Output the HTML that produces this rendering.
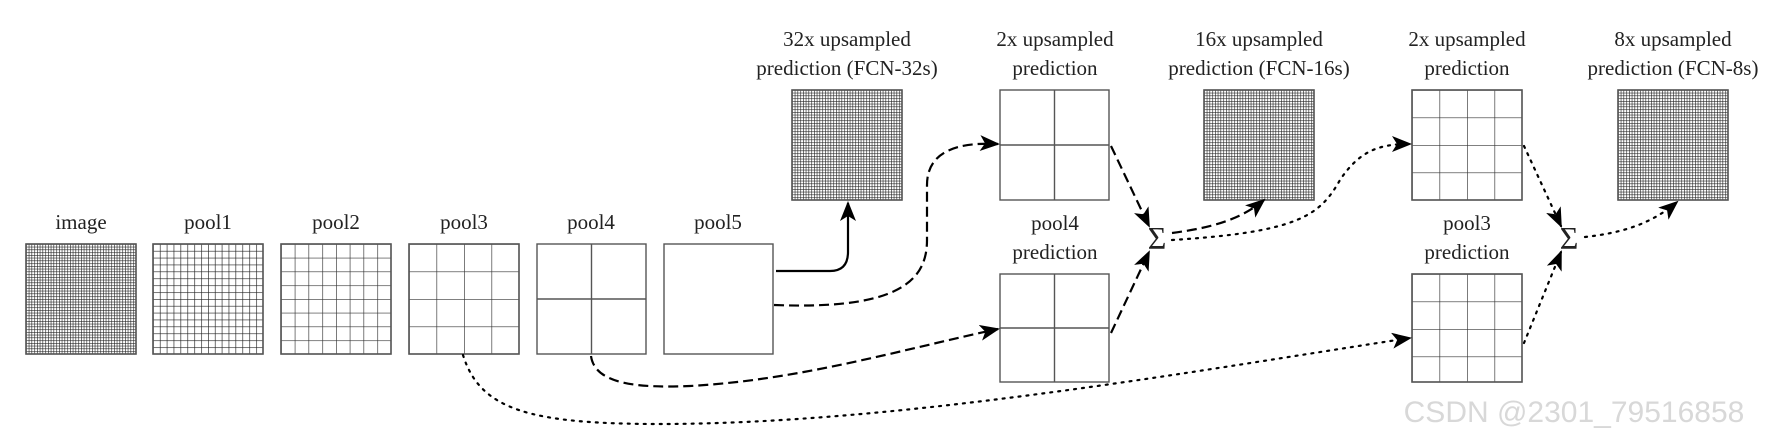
<!DOCTYPE html>
<html><head><meta charset="utf-8"><style>
html,body{margin:0;padding:0;background:#fff;}
svg{display:block;}
text{font-family:"Liberation Serif",serif;font-size:21px;fill:#222;text-anchor:middle;}
</style></head><body>
<svg width="1792" height="442" viewBox="0 0 1792 442" xmlns="http://www.w3.org/2000/svg">
<defs>
<pattern id="g40" width="2.75" height="2.75" patternUnits="userSpaceOnUse"><path d="M0 0H2.75M0 0V2.75" stroke="#222" stroke-width="1.2" fill="none"/></pattern>
<pattern id="g16" width="6.875" height="6.875" patternUnits="userSpaceOnUse"><path d="M0 0H6.875M0 0V6.875" stroke="#222" stroke-width="1.3" fill="none"/></pattern>
<pattern id="g8" width="13.75" height="13.75" patternUnits="userSpaceOnUse"><path d="M0 0H13.75M0 0V13.75" stroke="#333" stroke-width="1.3" fill="none"/></pattern>
<pattern id="g4" width="27.5" height="27.5" patternUnits="userSpaceOnUse"><path d="M0 0H27.5M0 0V27.5" stroke="#333" stroke-width="1.3" fill="none"/></pattern>
<marker id="ar" viewBox="0 0 20 16" refX="18" refY="8" markerWidth="20" markerHeight="16" markerUnits="userSpaceOnUse" orient="auto">
<path d="M0 0 L20 8 L0 16 L5 8 Z" fill="#000"/></marker>
</defs>
<g fill="none" stroke="#555" stroke-width="1.4">
<g transform="translate(26,244)"><rect width="110" height="110" fill="url(#g40)"/><rect width="110" height="110"/></g>
<g transform="translate(153,244)"><rect width="110" height="110" fill="url(#g16)"/><rect width="110" height="110"/></g>
<g transform="translate(281,244)"><rect width="110" height="110" fill="url(#g8)"/><rect width="110" height="110"/></g>
<g transform="translate(409,244)"><rect width="110" height="110" fill="url(#g4)"/><rect width="110" height="110"/></g>
<g transform="translate(537,244)"><rect width="109" height="110"/><path d="M54.5 0V110M0 55H109"/></g>
<rect x="664" y="244" width="109" height="110"/>
<g transform="translate(792,90)"><rect width="110" height="110" fill="url(#g40)"/><rect width="110" height="110"/></g>
<g transform="translate(1000,90)"><rect width="109" height="110"/><path d="M54.5 0V110M0 55H109"/></g>
<g transform="translate(1204,90)"><rect width="110" height="110" fill="url(#g40)"/><rect width="110" height="110"/></g>
<g transform="translate(1412,90)"><rect width="110" height="110" fill="url(#g4)"/><rect width="110" height="110"/></g>
<g transform="translate(1618,90)"><rect width="110" height="110" fill="url(#g40)"/><rect width="110" height="110"/></g>
<g transform="translate(1000,274)"><rect width="109" height="108"/><path d="M54.5 0V108M0 54H109"/></g>
<g transform="translate(1412,274)"><rect width="110" height="108" fill="url(#g4)"/><rect width="110" height="108"/></g>
</g>
<text x="81" y="229">image</text>
<text x="208" y="229">pool1</text>
<text x="336" y="229">pool2</text>
<text x="464" y="229">pool3</text>
<text x="591" y="229">pool4</text>
<text x="718" y="229">pool5</text>
<text x="847" y="46">32x upsampled</text><text x="847" y="75">prediction (FCN-32s)</text>
<text x="1055" y="46">2x upsampled</text><text x="1055" y="75">prediction</text>
<text x="1259" y="46">16x upsampled</text><text x="1259" y="75">prediction (FCN-16s)</text>
<text x="1467" y="46">2x upsampled</text><text x="1467" y="75">prediction</text>
<text x="1673" y="46">8x upsampled</text><text x="1673" y="75">prediction (FCN-8s)</text>
<text x="1055" y="230">pool4</text><text x="1055" y="259">prediction</text>
<text x="1467" y="230">pool3</text><text x="1467" y="259">prediction</text>
<text x="1157" y="249" style="font-size:32px">Σ</text>
<text x="1569" y="249" style="font-size:32px">Σ</text>
<g fill="none" stroke="#000" stroke-width="2.2" marker-end="url(#ar)">
<path d="M776 271 L830 271 Q848 271 848 252 L848 203"/>
<path d="M774 305 C900 310 927 280 927 240 L927 185 C927 150 960 142 998 144" stroke-dasharray="10 5"/>
<path d="M591 356 C595 385 640 388 690 386 C800 380 900 350 998 329" stroke-dasharray="10 5"/>
<path d="M463 355 C480 410 530 424 660 424 C900 424 1200 370 1410 338" stroke-dasharray="2 6" stroke-linecap="round"/>
<path d="M1111 146 L1149 226" stroke-dasharray="10 5"/>
<path d="M1111 333 L1149 252" stroke-dasharray="10 5"/>
<path d="M1172 233 C1210 228 1240 220 1264 200" stroke-dasharray="10 5"/>
<path d="M1172 240 C1300 232 1320 215 1340 180 C1360 150 1380 144 1410 144" stroke-dasharray="2 6" stroke-linecap="round"/>
<path d="M1524 146 L1561 226" stroke-dasharray="2 6" stroke-linecap="round"/>
<path d="M1524 343 L1561 252" stroke-dasharray="2 6" stroke-linecap="round"/>
<path d="M1585 237 C1620 233 1650 225 1677 202" stroke-dasharray="2 6" stroke-linecap="round"/>
</g>
<text x="1574" y="422" style="font-family:'Liberation Sans',sans-serif;font-size:30px;fill:#d8d8d8">CSDN @2301_79516858</text>
</svg>
</body></html>
